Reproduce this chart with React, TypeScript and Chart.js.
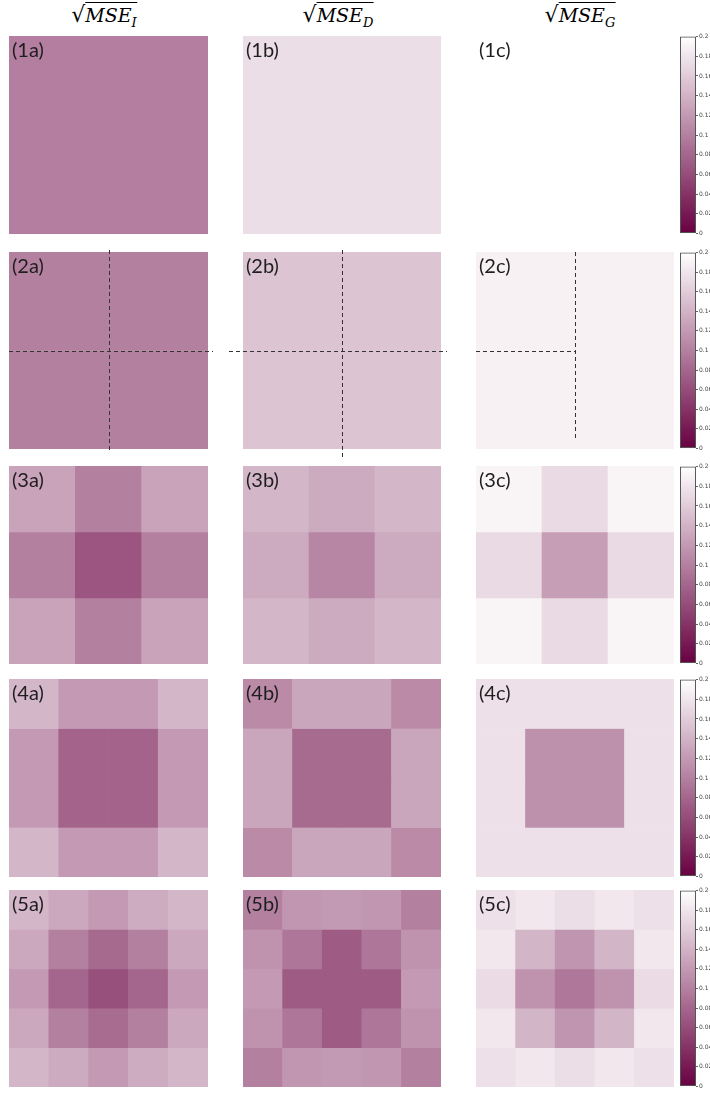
import React, { useEffect, useRef } from "react";
import { Chart, registerables } from "chart.js";
Chart.register(...registerables);

// ---------- data ----------
const VMIN = 0;
const VMAX = 0.2;
const colorbarTicks = [0, 0.02, 0.04, 0.06, 0.08, 0.1, 0.12, 0.14, 0.16, 0.18, 0.2];
const columnSubscripts = ["I", "D", "G"];
const columnLetters = ["a", "b", "c"];

const P1a = [[0.099]];
const P1b = [[0.174]];
const P1c = [[0.2]];

const P2a = [
  [0.1, 0.1],
  [0.1, 0.1],
];
const P2b = [
  [0.154, 0.154],
  [0.154, 0.154],
];
const P2c = [
  [0.189, 0.189],
  [0.189, 0.189],
];

const P3a = [
  [0.128, 0.1, 0.128],
  [0.1, 0.067, 0.1],
  [0.128, 0.1, 0.128],
];
const P3b = [
  [0.143, 0.133, 0.143],
  [0.133, 0.105, 0.133],
  [0.143, 0.133, 0.143],
];
const P3c = [
  [0.192, 0.171, 0.192],
  [0.171, 0.125, 0.171],
  [0.192, 0.171, 0.192],
];

const P4a = [
  [0.143, 0.12, 0.12, 0.143],
  [0.12, 0.078, 0.078, 0.12],
  [0.12, 0.078, 0.078, 0.12],
  [0.143, 0.12, 0.12, 0.143],
];
const P4b = [
  [0.108, 0.13, 0.13, 0.108],
  [0.13, 0.084, 0.084, 0.13],
  [0.13, 0.084, 0.084, 0.13],
  [0.108, 0.13, 0.13, 0.108],
];
const P4c = [
  [0.176, 0.176, 0.176, 0.176],
  [0.176, 0.113, 0.113, 0.176],
  [0.176, 0.113, 0.113, 0.176],
  [0.176, 0.176, 0.176, 0.176],
];

const P5a = [
  [0.143, 0.132, 0.12, 0.134, 0.143],
  [0.132, 0.1, 0.083, 0.1, 0.132],
  [0.12, 0.08, 0.062, 0.08, 0.12],
  [0.132, 0.1, 0.085, 0.1, 0.132],
  [0.143, 0.133, 0.12, 0.134, 0.143],
];
const P5b = [
  [0.1, 0.118, 0.121, 0.118, 0.1],
  [0.115, 0.093, 0.072, 0.093, 0.115],
  [0.12, 0.072, 0.072, 0.072, 0.12],
  [0.115, 0.093, 0.072, 0.093, 0.115],
  [0.1, 0.118, 0.121, 0.118, 0.1],
];
const P5c = [
  [0.176, 0.181, 0.174, 0.181, 0.176],
  [0.181, 0.142, 0.117, 0.142, 0.181],
  [0.172, 0.115, 0.094, 0.115, 0.172],
  [0.181, 0.142, 0.117, 0.142, 0.181],
  [0.176, 0.181, 0.174, 0.181, 0.176],
];

const gridRows = [
  [P1a, P1b, P1c],
  [P2a, P2b, P2c],
  [P3a, P3b, P3c],
  [P4a, P4b, P4c],
  [P5a, P5b, P5c],
];

// ---------- layout ----------
const COL_X = [9, 243, 476];
const COL_W = [199, 198, 198];
const ROW_Y = [36, 252, 466, 679, 890];
const ROW_H = [198, 197, 198, 198, 197];
const TITLE_CX = [104, 338, 580];
const CB_X = 680;
const CB_W = 16;
const PAD = 18;

// dashed divider extents for row 2: [hLeftExt, hRightEnd(null=full+ext), vTopExt, vBottomExt]
const DASH = [
  { hl: 0, hr: 5, vt: -2, vb: 4, hToCenter: false },
  { hl: -14, hr: 6, vt: -2, vb: 8, hToCenter: false },
  { hl: 0, hr: 0, vt: 0, vb: -9, hToCenter: true },
];

function cmap(v: number) {
  let t = (v - VMIN) / (VMAX - VMIN);
  t = Math.max(0, Math.min(1, t));
  const r = Math.round(104 + 151 * t);
  const g = Math.round(0 + 255 * t);
  const b = Math.round(64 + 191 * t);
  return `rgb(${r},${g},${b})`;
}

const dashPlugin = (d: any) => ({
  id: "dash",
  afterDatasetsDraw(chart: any) {
    const { x, y } = chart.scales;
    const a = chart.chartArea;
    const cx = Math.round((x.getPixelForValue(0) + x.getPixelForValue(1)) / 2) + 0.5;
    const cy = Math.round(y.getPixelForValue(1)) + 0.5;
    const ctx = chart.ctx;
    ctx.save();
    ctx.setLineDash([4, 3]);
    ctx.strokeStyle = "#333";
    ctx.lineWidth = 1;
    ctx.beginPath();
    ctx.moveTo(a.left + d.hl, cy);
    ctx.lineTo(d.hToCenter ? cx : a.right + d.hr, cy);
    ctx.stroke();
    ctx.beginPath();
    ctx.moveTo(cx, a.top + d.vt);
    ctx.lineTo(cx, a.bottom + d.vb);
    ctx.stroke();
    ctx.restore();
  },
});

function Heatmap({ grid, left, top, w, h, dash }: any) {
  const ref = useRef<HTMLCanvasElement>(null);
  useEffect(() => {
    const n = grid.length;
    const datasets = grid.map((row: number[]) => ({
      data: row.map(() => 1),
      backgroundColor: row.map(cmap),
      borderWidth: 0,
      barPercentage: 1,
      categoryPercentage: 1,
    }));
    const chart = new Chart(ref.current as HTMLCanvasElement, {
      type: "bar",
      data: { labels: grid[0].map((_: number, i: number) => String(i)), datasets },
      options: {
        responsive: false,
        animation: false,
        events: [],
        layout: { padding: PAD },
        plugins: { legend: { display: false }, tooltip: { enabled: false } },
        scales: {
          x: { stacked: true, display: false },
          y: { stacked: true, display: false, min: 0, max: n, reverse: true },
        },
      },
      plugins: dash ? [dashPlugin(dash)] : [],
    } as any);
    return () => chart.destroy();
  }, []);
  return (
    <canvas
      ref={ref}
      width={w + 2 * PAD}
      height={h + 2 * PAD}
      style={{ position: "absolute", left: left - PAD, top: top - PAD }}
    />
  );
}

function Colorbar({ top, h }: any) {
  const ref = useRef<HTMLCanvasElement>(null);
  useEffect(() => {
    const chart = new Chart(ref.current as HTMLCanvasElement, {
      type: "bar",
      data: {
        labels: [""],
        datasets: [
          {
            data: [VMAX],
            backgroundColor: (c: any) => {
              const area = c.chart.chartArea;
              if (!area) return "#fff";
              const g = c.chart.ctx.createLinearGradient(0, area.bottom, 0, area.top);
              colorbarTicks.forEach((v) => g.addColorStop((v - VMIN) / (VMAX - VMIN), cmap(v)));
              return g;
            },
            borderColor: "#555",
            borderWidth: 1.3,
            borderSkipped: false,
            barPercentage: 1,
            categoryPercentage: 1,
          },
        ],
      },
      options: {
        responsive: false,
        animation: false,
        events: [],
        layout: { padding: { left: 4, top: 4, bottom: 4, right: 0 } },
        plugins: { legend: { display: false }, tooltip: { enabled: false } },
        scales: {
          x: { display: false },
          y: {
            position: "right",
            min: VMIN,
            max: VMAX,
            afterBuildTicks: (s: any) => {
              s.ticks = colorbarTicks.map((v) => ({ value: v }));
            },
            afterFit: (s: any) => {
              s.width = 16;
            },
            ticks: {
              font: { size: 6, family: "DejaVu Sans" },
              color: "#444",
              padding: 1,
              callback: (v: any) => String(+(+v).toFixed(2)),
            },
            grid: { drawOnChartArea: false, drawTicks: true, tickLength: 2, color: "#666" },
            border: { display: false },
          },
        },
      },
    } as any);
    return () => chart.destroy();
  }, []);
  return (
    <canvas
      ref={ref}
      width={4 + CB_W + 16}
      height={h + 8}
      style={{ position: "absolute", left: CB_X - 4, top: top - 4 }}
    />
  );
}

function Title({ cx, sub }: any) {
  return (
    <div
      style={{
        position: "absolute",
        left: cx,
        top: 0,
        transform: "translateX(-50%)",
        fontFamily: "'DejaVu Serif', serif",
        fontSize: 19,
        whiteSpace: "nowrap",
        color: "#000",
        lineHeight: "30px",
      }}
    >
      <span style={{ fontSize: 22 }}>√</span>
      <span style={{ borderTop: "1.3px solid #000", fontStyle: "italic", paddingTop: 1 }}>
        MSE
        <span style={{ fontSize: 13, position: "relative", top: 5 }}>{sub}</span>
      </span>
    </div>
  );
}

export default function App() {
  return (
    <div
      style={{
        position: "absolute",
        left: 0,
        top: 0,
        width: 710,
        height: 1093,
        overflow: "hidden",
        background: "#fff",
      }}
    >
      {columnSubscripts.map((s, i) => (
        <Title key={"t" + i} cx={TITLE_CX[i]} sub={s} />
      ))}
      {gridRows.map((row, r) =>
        row.map((grid, c) => (
          <Heatmap
            key={`h${r}${c}`}
            grid={grid}
            left={COL_X[c]}
            top={ROW_Y[r]}
            w={COL_W[c]}
            h={ROW_H[r]}
            dash={r === 1 ? DASH[c] : null}
          />
        ))
      )}
      {gridRows.map((row, r) =>
        row.map((_, c) => (
          <div
            key={`l${r}${c}`}
            style={{
              position: "absolute",
              left: COL_X[c] + 3,
              top: ROW_Y[r] + 1,
              fontFamily: "Lato, 'Open Sans', sans-serif",
              fontSize: 20,
              color: "#1e1e1e",
              lineHeight: "24px",
            }}
          >
            ({r + 1}
            {columnLetters[c]})
          </div>
        ))
      )}
      {ROW_Y.map((y, r) => (
        <Colorbar key={"cb" + r} top={y} h={ROW_H[r]} />
      ))}
    </div>
  );
}
